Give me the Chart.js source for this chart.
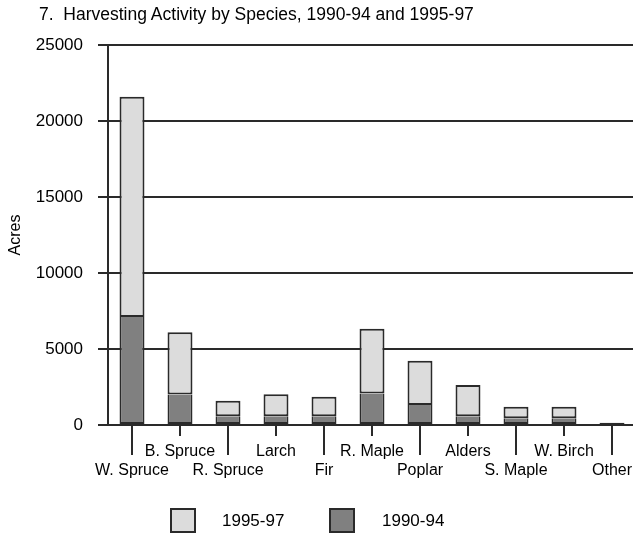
<!DOCTYPE html>
<html>
<head>
<meta charset="utf-8">
<script src="https://cdn.jsdelivr.net/npm/chart.js@4"></script>
<style>
  body { margin: 0; background: #fff; font-family: "Liberation Sans", Arial, sans-serif; color: #000; }
  #wrap { position: relative; width: 633px; height: 536px; overflow: hidden; }
  #chart { position: absolute; left: 0; top: 0; }
  #title { position: absolute; left: 39px; top: 4px; font-size: 17.5px; white-space: pre; }
  .box { position: absolute; top: 508px; width: 26px; height: 25px; box-sizing: border-box; border: 2px solid #2a2a2a; }
  .lbl { position: absolute; top: 508px; height: 25px; line-height: 25px; font-size: 17px; }
</style>
</head>
<body>
<div id="wrap">
  <canvas id="chart" width="640" height="536"></canvas>
  <div id="title">7.  Harvesting Activity by Species, 1990-94 and 1995-97</div>
  <div class="box" style="left:170px; background:#dcdcdc"></div>
  <div class="lbl" style="left:222px">1995-97</div>
  <div class="box" style="left:329px; background:#808080"></div>
  <div class="lbl" style="left:382px">1990-94</div>
</div>
<script>
// species on the x axis
const species = ['W. Spruce', 'B. Spruce', 'R. Spruce', 'Larch', 'Fir', 'R. Maple',
                 'Poplar', 'Alders', 'S. Maple', 'W. Birch', 'Other'];
// acres harvested in each period (stacked)
const acres9094 = [7100, 2000, 570, 570, 570, 2080, 1320, 570, 440, 440, 60];
const acres9597 = [14500, 4100, 1030, 1450, 1290, 4250, 2910, 2060, 760, 760, 90];
const yTicks = [0, 5000, 10000, 15000, 20000, 25000];

const ink = '#2a2a2a';
Chart.defaults.font.family = '"Liberation Sans", Arial, sans-serif';
Chart.defaults.color = '#000';

// every other category gets a long tick down to its second-row label
const longTicks = {
  id: 'longTicks',
  afterDraw(chart) {
    const x = chart.scales.x, ctx = chart.ctx;
    ctx.save();
    ctx.strokeStyle = ink;
    ctx.lineWidth = 2;
    x.ticks.forEach((t, i) => {
      if (i % 2) return;
      const px = x.getPixelForTick(i);
      ctx.beginPath();
      ctx.moveTo(px, x.top);
      ctx.lineTo(px, x.top + 30);
      ctx.stroke();
    });
    ctx.restore();
  }
};

const barStyle = { borderColor: ink, borderWidth: 2, categoryPercentage: 1, barPercentage: 0.52 };

new Chart(document.getElementById('chart'), {
  type: 'bar',
  data: {
    labels: species,
    datasets: [
      // lower segment: no top edge, the upper segment draws the join
      Object.assign({ label: '1990-94', data: acres9094, backgroundColor: '#808080', borderSkipped: 'top' }, barStyle),
      Object.assign({ label: '1995-97', data: acres9597, backgroundColor: '#dcdcdc', borderSkipped: false }, barStyle)
    ]
  },
  options: {
    responsive: false,
    animation: false,
    layout: { padding: { top: 45, right: 4, bottom: 51, left: 0 } },
    plugins: { legend: { display: false }, tooltip: { enabled: false } },
    scales: {
      x: {
        stacked: true,
        afterFit: s => { s.height = 60; },
        grid: { offset: false, drawOnChartArea: false, tickLength: 11, color: ink, lineWidth: 2 },
        border: { display: true, color: ink, width: 2 },
        ticks: {
          font: { size: 16 }, padding: 6, maxRotation: 0, autoSkip: false,
          callback: (v, i) => i % 2 ? species[i] : ['', species[i]]
        }
      },
      y: {
        stacked: true,
        min: 0, max: 25000,
        afterFit: s => { s.width = 108; },
        afterBuildTicks: s => { s.ticks = yTicks.map(v => ({ value: v })); },
        grid: { color: ink, lineWidth: 2, tickLength: 10 },
        border: { display: true, color: ink, width: 2 },
        ticks: { font: { size: 17 }, padding: 15, callback: v => String(v) },
        title: { display: true, text: 'Acres', font: { size: 16 }, padding: { top: 6, bottom: 0 } }
      }
    }
  },
  plugins: [longTicks]
});
</script>
</body>
</html>
